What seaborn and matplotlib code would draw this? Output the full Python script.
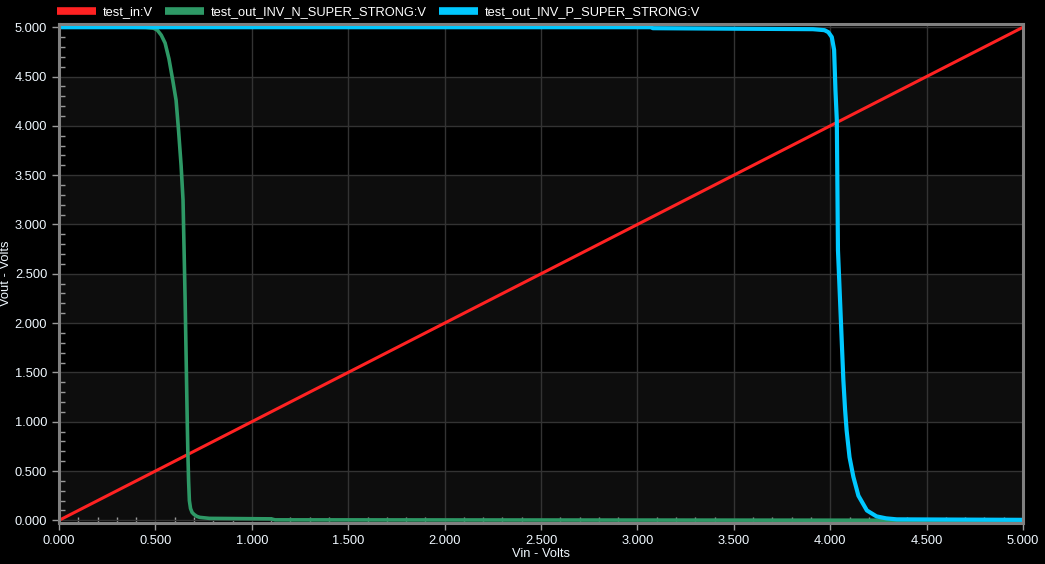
import matplotlib
matplotlib.use("Agg")
import matplotlib.pyplot as plt
import seaborn as sns
import pandas as pd
from matplotlib.ticker import MultipleLocator, FormatStrFormatter

# values (Vin in volts, Vout in volts)
vin_in = [0.0, 5.0]
vout_in = [0.0, 5.0]

vin_n = [0.0, 0.38, 0.45, 0.49, 0.51, 0.53, 0.55, 0.57, 0.59, 0.607, 0.62,
         0.633, 0.643, 0.654, 0.665, 0.668, 0.672, 0.676, 0.682, 0.69, 0.70,
         0.715, 0.73, 0.78, 1.10, 1.12, 5.0]
vout_n = [5.0, 5.0, 4.998, 4.99, 4.97, 4.92, 4.84, 4.68, 4.46, 4.26, 3.95,
          3.60, 3.25, 2.23, 1.0, 0.70, 0.40, 0.20, 0.12, 0.08, 0.06,
          0.04, 0.03, 0.02, 0.015, 0.005, 0.0]

vin_p = [0.0, 3.07, 3.08, 3.91, 3.97, 3.99, 4.008, 4.02, 4.027, 4.034, 4.04,
         4.068, 4.077, 4.085, 4.10, 4.12, 4.146, 4.19, 4.24, 4.29, 4.345, 5.0]
vout_p = [5.0, 5.0, 4.99, 4.98, 4.97, 4.95, 4.90, 4.77, 4.36, 4.06, 2.74,
          1.42, 1.12, 0.91, 0.64, 0.44, 0.25, 0.10, 0.04, 0.02, 0.01, 0.005]

names = ["test_in:V", "test_out_INV_N_SUPER_STRONG:V", "test_out_INV_P_SUPER_STRONG:V"]
colors = ["#ff2222", "#2e9966", "#00c8ff"]
widths = [2.2, 2.6, 3.0]

sns.set_style("dark")
plt.rcParams["font.family"] = ["Liberation Sans", "DejaVu Sans"]

fig = plt.figure(figsize=(10.45, 5.64), dpi=100, facecolor="black")
ax = fig.add_axes([0.0565, 0.0727, 0.9225, 0.8843])
ax.set_facecolor("black")

# alternating bands between grid lines
for i in range(10):
    if i % 2 == 0:
        ax.axhspan(i * 0.5, i * 0.5 + 0.5, color="#0d0d0d", lw=0, zorder=0)

series = [(vin_in, vout_in), (vin_n, vout_n), (vin_p, vout_p)]
for (x, y), name, c, w in zip(series, names, colors, widths):
    df = pd.DataFrame({"Vin": x, "Vout": y})
    sns.lineplot(data=df, x="Vin", y="Vout", ax=ax, color=c, lw=w,
                 sort=False, estimator=None, label=name, zorder=3)

ax.set_xlim(0, 5)
ax.set_ylim(-0.027, 5.03)
ax.xaxis.set_major_locator(MultipleLocator(0.5))
ax.yaxis.set_major_locator(MultipleLocator(0.5))
ax.xaxis.set_minor_locator(MultipleLocator(0.1))
ax.yaxis.set_minor_locator(MultipleLocator(0.1))
ax.xaxis.set_major_formatter(FormatStrFormatter("%.3f"))
ax.yaxis.set_major_formatter(FormatStrFormatter("%.3f"))

ax.grid(True, which="major", color="#333333", lw=1, zorder=1)
ax.grid(False, which="minor")
ax.tick_params(which="major", direction="out", length=5, width=1, color="#9a9a9a",
               labelcolor="#f0f8ff", labelsize=9.3, bottom=True, left=True)
ax.tick_params(which="minor", direction="in", length=4, width=1, color="#9a9a9a",
               bottom=True, left=True)

for s in ax.spines.values():
    s.set_visible(True)
    s.set_color("#808080")
    s.set_linewidth(2.2)
    s.set_zorder(5)

ax.set_xlabel("Vin - Volts", color="#f0f8ff", fontsize=9.3, labelpad=1)
ax.set_ylabel("Vout - Volts", color="#f0f8ff", fontsize=9.3, labelpad=2)

leg = ax.legend(loc="lower left", bbox_to_anchor=(-0.002, 1.012), ncol=3, frameon=False,
                fontsize=9.3, handlelength=3.0, handletextpad=0.5, columnspacing=1.0,
                borderaxespad=0, borderpad=0)
for h, c in zip(leg.legend_handles, colors):
    h.set_color(c)
    h.set_linewidth(5.5)
    h.set_solid_capstyle("butt")
for t in leg.get_texts():
    t.set_color("white")

fig.savefig("out.png", dpi=100, facecolor="black")
